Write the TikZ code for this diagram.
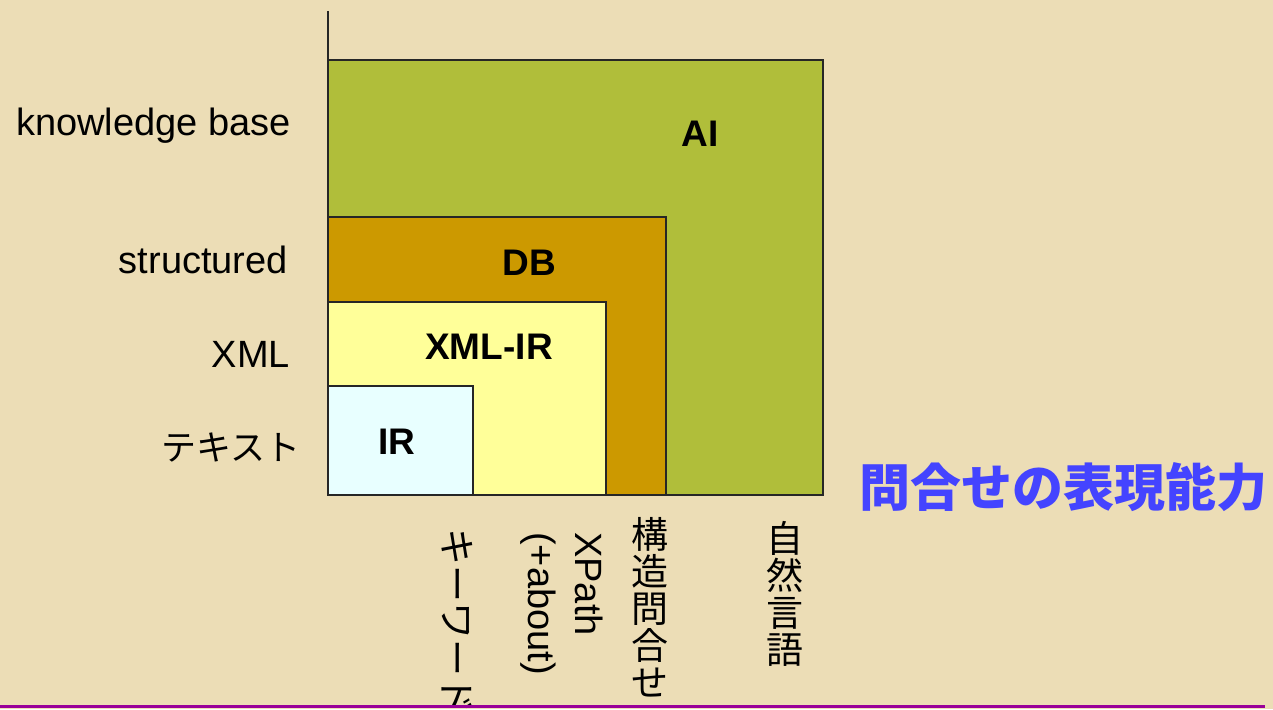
\documentclass[tikz,border=0pt]{standalone}
\usepackage{fontspec}
\setmainfont{Liberation Sans}
\newfontfamily\jp{Noto Sans CJK JP}
\definecolor{bg}{HTML}{ECDDB6}
\definecolor{aicol}{HTML}{B0BE3A}
\definecolor{dbcol}{HTML}{CC9900}
\definecolor{xmlcol}{HTML}{FFFF99}
\definecolor{ircol}{HTML}{E8FFFF}
\definecolor{titleblue}{HTML}{4444FF}
\definecolor{rulepurple}{HTML}{990099}
\tikzset{
  boxframe/.style={draw=black!85, line width=1.4pt},
  axislabel/.style={inner sep=0pt, font=\fontsize{38}{44}\selectfont},
  boxlabel/.style={inner sep=0pt, font=\fontsize{37}{44}\selectfont\bfseries},
  querylabel/.style={inner sep=0pt, font=\fontsize{38}{44}\selectfont},
}
\begin{document}
\begin{tikzpicture}[x=1pt,y=-1pt]
\useasboundingbox (0,0) rectangle (1273,709);
\fill[bg] (0,0) rectangle (1273,709);

% axis
\coordinate (axtop) at (328,11);
\coordinate (origin) at (328,495);
\draw[line width=1.4pt, black!85] (axtop) -- (origin);

% nested boxes
\filldraw[boxframe, fill=aicol] (origin) rectangle (823,60);
\filldraw[boxframe, fill=dbcol] (origin) rectangle (666,217);
\filldraw[boxframe, fill=xmlcol] (origin) rectangle (606,302);
\filldraw[boxframe, fill=ircol] (origin) rectangle (473,386);

% box labels
\node[boxlabel] (ai) at (700,134) {AI};
\node[boxlabel] (db) at (529,263) {DB};
\node[boxlabel] (xmlir) at (489,347) {XML-IR};
\node[boxlabel] (ir) at (397,442) {IR};

% vertical axis labels
\node[axislabel, anchor=base east] (kb) at (291,135) {knowledge base};
\node[axislabel, anchor=base east] (st) at (288,273) {structured};
\node[axislabel, anchor=base east] (xml) at (290,367) {XML};
\node[axislabel, anchor=east, font=\fontsize{35}{44}\selectfont\jp] (txt) at (301,447) {テキスト};

% horizontal axis title
\node[inner sep=0pt, text=titleblue, font=\fontsize{51}{60}\selectfont\jp\bfseries] (hx) at (1063,487) {問合せの表現能力};

% query labels
\node[querylabel, font=\fontsize{37}{44}\selectfont\jp, rotate=-90, anchor=west] (kw) at (457,528) {キーワード};
\node[querylabel, rotate=-90, anchor=north west, align=left, font=\fontsize{38}{47}\selectfont] (xp) at (603,532) {XPath\\(+about)};
\node[querylabel, align=center, font=\fontsize{37}{37}\selectfont\jp] (sq) at (650,607) {構\\造\\問\\合\\せ};
\node[querylabel, align=center, font=\fontsize{37}{37}\selectfont\jp] (nl) at (785,594) {自\\然\\言\\語};

% bottom rule
\draw[rulepurple, line width=3pt] (0,706) -- (1265,706);
\end{tikzpicture}
\end{document}
